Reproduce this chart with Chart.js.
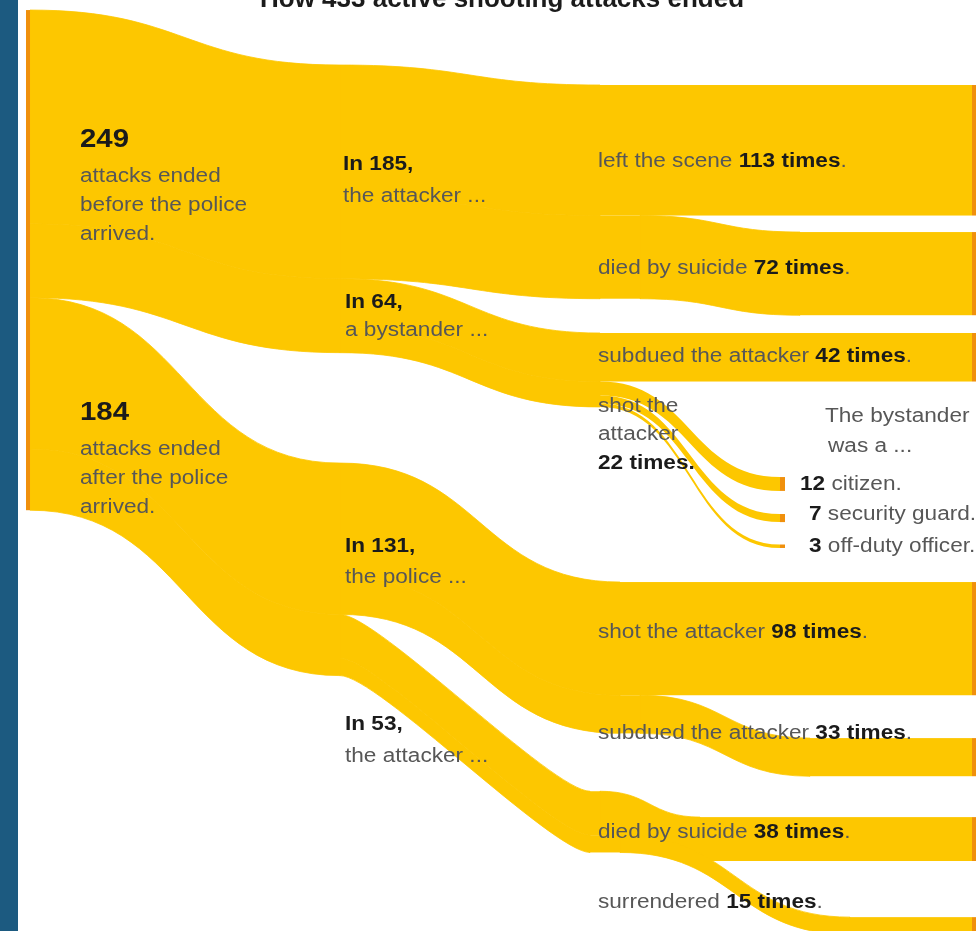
<!DOCTYPE html>
<html>
<head>
<meta charset="utf-8">
<script src="https://cdn.jsdelivr.net/npm/chart.js@4.4.1/dist/chart.umd.min.js"></script>
<style>
html, body { margin: 0; padding: 0; background: #fff; }
#wrap { position: relative; width: 977px; height: 931px; overflow: hidden; }
#strip { position: absolute; left: 0; top: 0; width: 18px; height: 931px; background: #1c5a80; }
</style>
</head>
<body>
<div id="wrap"><canvas id="flow"></canvas><div id="strip"></div></div>
<script>
// data
const totalAttacks = 433;
const whenEnded = ['before the police arrived', 'after the police arrived'];
const whenEndedCounts = [249, 184];
const whoActed = ['the attacker', 'a bystander', 'the police', 'the attacker'];
const whoActedCounts = [185, 64, 131, 53];
const whoActedParent = [0, 0, 1, 1];
const outcomes = ['left the scene', 'died by suicide', 'subdued the attacker', 'shot the attacker',
                  'shot the attacker', 'subdued the attacker', 'died by suicide', 'surrendered'];
const outcomeCounts = [113, 72, 42, 22, 98, 33, 38, 15];
const outcomeParent = [0, 0, 1, 1, 2, 2, 3, 3];
const bystanderTypes = ['citizen', 'security guard', 'off-duty officer'];
const bystanderCounts = [12, 7, 3];
const bystanderParent = 3;

// layout: x in page units, gaps in attacks
const leftX = 30, midX = 340, endX = 972, subX = 780;
const leftGap = 8.7;
const midGaps = [56.3, 0, 95.6, 0];
const groupX = [600, 600, 620, 590];
const groupGaps = [73.6, 29.7, 151.6, 50.1];
const groupCurve = [0.5, 0.5, 0.5, 0.15];
const outGaps = [73.6, 14.3, 15.4, 0, 151.6, 37.1, 35.4, 48.6];
const diveFrom = [0, 640, 0, 0, 0, 640, 600, 620];
const diveTo = [0, 800, 0, 0, 0, 810, 700, 850];
const subGaps = [413, 20, 19.4];

const YELLOW = '#FDC700';
const ORANGE = '#F0900C';

function stack(counts, gaps) {
    let pos = 0;
    return counts.map((c, i) => {
        pos += gaps[i];
        const top = pos;
        pos += c;
        return top;
    });
}

const leftTops = stack(whenEndedCounts, [leftGap, 0]);
const midTops = stack(whoActedCounts, midGaps);
const groupTops = stack(whoActedCounts, groupGaps);
const outTops = stack(outcomeCounts, outGaps);
const subTops = stack(bystanderCounts, subGaps);

// texts: [x, baseline, size, runs]
const labels = [
    [80, 147, 26, [['249', 1]]],
    [80, 182, 20, [['attacks ended', 0]]],
    [80, 211, 20, [['before the police', 0]]],
    [80, 240, 20, [['arrived.', 0]]],
    [80, 420, 26, [['184', 1]]],
    [80, 455, 20, [['attacks ended', 0]]],
    [80, 484, 20, [['after the police', 0]]],
    [80, 513, 20, [['arrived.', 0]]],
    [343, 170, 20, [['In 185,', 1]]],
    [343, 202, 20, [['the attacker ...', 0]]],
    [345, 308, 20, [['In 64,', 1]]],
    [345, 336, 20, [['a bystander ...', 0]]],
    [345, 552, 20, [['In 131,', 1]]],
    [345, 583, 20, [['the police ...', 0]]],
    [345, 730, 20, [['In 53,', 1]]],
    [345, 762, 20, [['the attacker ...', 0]]],
    [598, 167, 20, [['left the scene ', 0], ['113 times', 1], ['.', 0]]],
    [598, 274, 20, [['died by suicide ', 0], ['72 times', 1], ['.', 0]]],
    [598, 362, 20, [['subdued the attacker ', 0], ['42 times', 1], ['.', 0]]],
    [598, 412, 20, [['shot the', 0]]],
    [598, 440, 20, [['attacker', 0]]],
    [598, 469, 20, [['22 times.', 1]]],
    [825, 422, 20, [['The bystander', 0]]],
    [828, 452, 20, [['was a ...', 0]]],
    [800, 490, 20, [['12', 1], [' citizen.', 0]]],
    [809, 520, 20, [['7', 1], [' security guard.', 0]]],
    [809, 552, 20, [['3', 1], [' off-duty officer.', 0]]],
    [598, 638, 20, [['shot the attacker ', 0], ['98 times', 1], ['.', 0]]],
    [598, 739, 20, [['subdued the attacker ', 0], ['33 times', 1], ['.', 0]]],
    [598, 838, 20, [['died by suicide ', 0], ['38 times', 1], ['.', 0]]],
    [598, 908, 20, [['surrendered ', 0], ['15 times', 1], ['.', 0]]]
];

function band(ctx, x, y, x0, a0, b0, x1, a1, b1, curve, seam) {
    const X0 = x.getPixelForValue(x0), X1 = x.getPixelForValue(x1);
    const C0 = X0 + (X1 - X0) * curve, C1 = X1 - (X1 - X0) * curve;
    const A0 = y.getPixelForValue(a0), B0 = y.getPixelForValue(b0);
    const A1 = y.getPixelForValue(a1), B1 = y.getPixelForValue(b1);
    ctx.beginPath();
    ctx.moveTo(X0, A0);
    ctx.bezierCurveTo(C0, A0, C1, A1, X1, A1);
    ctx.lineTo(X1, B1);
    ctx.bezierCurveTo(C1, B1, C0, B0, X0, B0);
    ctx.closePath();
    ctx.fill();
    if (seam) ctx.stroke();
}

function rect(ctx, x, y, x0, x1, top, count) {
    const X0 = x.getPixelForValue(x0), X1 = x.getPixelForValue(x1);
    const T = y.getPixelForValue(top), B = y.getPixelForValue(top + count);
    ctx.fillRect(X0, T, X1 - X0, B - T);
}

function drawRuns(ctx, px, py, size, runs) {
    const sx = 1.13;
    runs.forEach(([text, bold]) => {
        ctx.font = (bold ? 'bold ' : '') + size + 'px "Liberation Sans", Arial, sans-serif';
        ctx.fillStyle = bold ? '#1b1b1b' : '#575757';
        ctx.save();
        ctx.translate(px, py);
        ctx.scale(sx, 1);
        ctx.fillText(text, 0, 0);
        ctx.restore();
        px += ctx.measureText(text).width * sx;
    });
}

const flowPlugin = {
    id: 'flows',
    beforeDatasetsDraw(chart) {
        const {ctx, scales: {x, y}} = chart;
        ctx.save();
        ctx.fillStyle = YELLOW;
        ctx.strokeStyle = YELLOW;
        ctx.lineWidth = 0.8;

        // left node -> who acted
        const leftUsed = whenEndedCounts.map(() => 0);
        whoActedCounts.forEach((c, j) => {
            const p = whoActedParent[j];
            const s = leftTops[p] + leftUsed[p];
            leftUsed[p] += c;
            band(ctx, x, y, leftX, s, s + c, midX, midTops[j], midTops[j] + c, 0.5, true);
        });

        // who acted -> outcome (moves as a group, then each outcome settles)
        const midUsed = whoActedCounts.map(() => 0);
        outcomeCounts.forEach((c, k) => {
            const p = outcomeParent[k];
            const s = midTops[p] + midUsed[p];
            const g = groupTops[p] + midUsed[p];
            midUsed[p] += c;
            const gx = groupX[p];
            band(ctx, x, y, midX, s, s + c, gx, g, g + c, groupCurve[p], true);
            if (k === bystanderParent) return;
            if (Math.abs(g - outTops[k]) < 0.5) {
                rect(ctx, x, y, gx - 1, endX, outTops[k], c);
            } else {
                rect(ctx, x, y, gx - 1, diveFrom[k] + 1, g, c);
                band(ctx, x, y, diveFrom[k], g, g + c, diveTo[k], outTops[k], outTops[k] + c, 0.5, true);
                rect(ctx, x, y, diveTo[k] - 1, endX, outTops[k], c);
            }
        });

        // bystander shot -> bystander type
        let subUsed = 0;
        const shotTop = groupTops[outcomeParent[bystanderParent]] + outcomeCounts[2];
        bystanderCounts.forEach((c, m) => {
            const s = shotTop + subUsed;
            subUsed += c;
            band(ctx, x, y, groupX[1], s, s + c, subX, subTops[m], subTops[m] + c, 0.5, false);
        });

        // node bars
        ctx.fillStyle = ORANGE;
        rect(ctx, x, y, leftX - 4, leftX, leftTops[0], totalAttacks);
        outcomeCounts.forEach((c, k) => {
            if (k !== bystanderParent) rect(ctx, x, y, endX, endX + 4, outTops[k], c);
        });
        bystanderCounts.forEach((c, m) => rect(ctx, x, y, subX, subX + 5, subTops[m], c));
        ctx.restore();
    },
    afterDatasetsDraw(chart) {
        const {ctx} = chart;
        ctx.save();
        ctx.textBaseline = 'alphabetic';
        labels.forEach(([lx, ly, size, runs]) => drawRuns(ctx, lx, ly, size, runs));
        ctx.font = 'bold 26px "Liberation Sans", Arial, sans-serif';
        ctx.fillStyle = '#1b1b1b';
        ctx.textAlign = 'center';
        ctx.fillText('How ' + totalAttacks + ' active shooting attacks ended', 502, 7);
        ctx.restore();
    }
};

new Chart(document.getElementById('flow'), {
    type: 'scatter',
    data: { datasets: [{ data: [] }] },
    options: {
        responsive: true,
        maintainAspectRatio: false,
        animation: false,
        layout: { padding: 0 },
        plugins: { legend: { display: false }, tooltip: { enabled: false } },
        scales: {
            x: { type: 'linear', min: 0, max: 977, display: false },
            y: { type: 'linear', min: 0, max: 806, reverse: true, display: false }
        }
    },
    plugins: [flowPlugin]
});
</script>
</body>
</html>
